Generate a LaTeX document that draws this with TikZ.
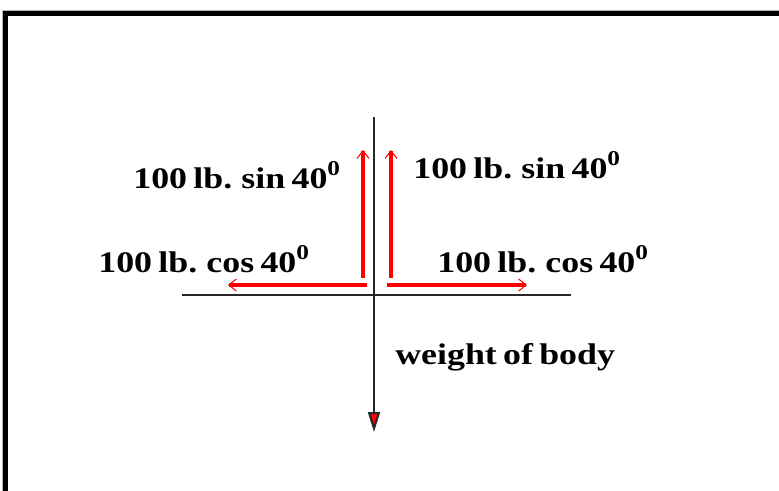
\documentclass[tikz,border=0pt]{standalone}
\usepackage{fontspec}
\setmainfont{Liberation Serif}[FakeStretch=1.2, WordSpace=0.7]
\usepackage{tikz}
\usetikzlibrary{arrows.meta, positioning, calc}

\newcommand{\degsup}{\raisebox{0.42em}{\fontsize{12}{12}\selectfont 0}}

\begin{document}
\begin{tikzpicture}[
  x=0.02cm, y=-0.02cm,
  axis/.style={draw=black!85, line width=0.04cm},
  force/.style={draw=red, line width=0.08cm,
                -{Straight Barb[line width=0.6pt, length=0.15cm, width=0.24cm]}},
  weight/.style={axis, -{Triangle[fill=red, length=0.4cm, width=0.24cm]}},
  lbl/.style={font=\fontsize{17}{19}\selectfont\bfseries, inner sep=0pt, anchor=base west},
]
\useasboundingbox (0,0) rectangle (779,491);

% frame (only top and left edge show)
\draw[gray!60, line width=0.02cm] (3,491) -- (3,10.5) -- (779,10.5);
\draw[black, line width=0.1cm] (5.5,491) -- (5.5,13.5) -- (779,13.5);

% axes
\coordinate (o)   at (374,295);
\coordinate (top) at (374,117);
\coordinate (bot) at (374,432);
\coordinate (lft) at (182,295);
\coordinate (rgt) at (571,295);
\draw[axis] (lft) -- (rgt);
\draw[weight] (top) -- (bot);

% components
\coordinate (sinL0) at (363,278);
\coordinate (sinL1) at (363,150);
\coordinate (sinR0) at (391,278);
\coordinate (sinR1) at (391,150);
\coordinate (cosL0) at (367,285);
\coordinate (cosL1) at (228,285);
\coordinate (cosR0) at (387,285);
\coordinate (cosR1) at (527,285);
\draw[force] (sinL0) -- (sinL1);
\draw[force] (sinR0) -- (sinR1);
\draw[force] (cosL0) -- (cosL1);
\draw[force] (cosR0) -- (cosR1);

% labels
\node[lbl] (sinl) at (133,188) {100 lb. sin 40\degsup};
\node[lbl] (sinr) at (413,178) {100 lb. sin 40\degsup};
\node[lbl] (cosl) at (98,272)  {100 lb. cos 40\degsup};
\node[lbl] (cosr) at (437,272) {100 lb. cos 40\degsup};
\node[lbl] (wt)   at (395,364) {weight of body};
\end{tikzpicture}
\end{document}
